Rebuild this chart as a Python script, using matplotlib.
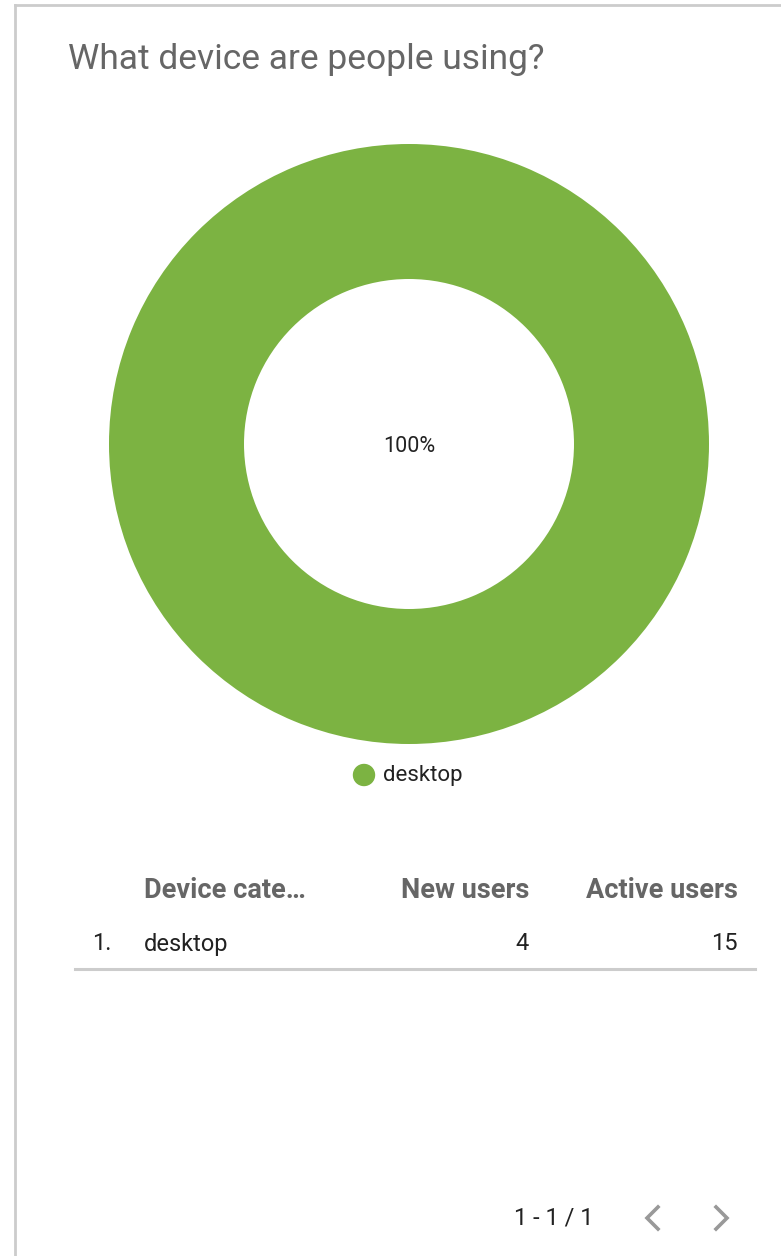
import matplotlib
matplotlib.use("Agg")
import matplotlib.pyplot as plt
from matplotlib.patches import Circle
from matplotlib.lines import Line2D

# ---- data ----
categories = ["desktop"]
new_users = [4]
active_users = [15]
title = "What device are people using?"
col_headers = ["Device cate\u2026", "New users", "Active users"]
page_label = "1 - 1 / 1"

GREEN = "#7cb342"
W, H = 781, 1256
fig = plt.figure(figsize=(W / 100, H / 100), dpi=100)
ax = fig.add_axes([0, 0, 1, 1])
FONT = ["Roboto", "DejaVu Sans"]

# donut
total = sum(active_users)
ax.pie(active_users, colors=[GREEN], radius=300, center=(409, 444),
       startangle=90, counterclock=False,
       wedgeprops=dict(width=135, edgecolor="none"))
ax.set_xlim(0, W)
ax.set_ylim(H, 0)
ax.set_aspect("equal")
ax.axis("off")

pct = 100 * active_users[0] / total
ax.text(409, 446, f"{pct:.0f}%", ha="center", va="center", fontsize=15.5,
        color="#222222", family=FONT)

# card border
ax.add_line(Line2D([15, W], [5, 5], color="#cccccc", lw=2))
ax.add_line(Line2D([15, 15], [5, H], color="#cccccc", lw=2))

# title
ax.text(68, 59, title, ha="left", va="center", fontsize=25.5,
        color="#666666", family=FONT)

# legend
ax.add_patch(Circle((364, 775), 10.5, color=GREEN))
ax.text(383, 776, categories[0], ha="left", va="center", fontsize=16,
        color="#222222", family=FONT)

# table
hy = 891
hfs = 19.5
ax.text(144, hy, col_headers[0], ha="left", va="center", fontsize=hfs,
        fontweight="bold", color="#666666", family=FONT)
ax.text(529, hy, col_headers[1], ha="right", va="center", fontsize=hfs,
        fontweight="bold", color="#666666", family=FONT)
ax.text(738, hy, col_headers[2], ha="right", va="center", fontsize=hfs,
        fontweight="bold", color="#666666", family=FONT)

for i, (cat, nu, au) in enumerate(zip(categories, new_users, active_users)):
    ry = 944 + i * 50
    ax.text(92, ry, f"{i + 1}.", ha="left", va="center", fontsize=17,
            color="#222222", family=FONT)
    ax.text(144, ry, cat, ha="left", va="center", fontsize=17,
            color="#222222", family=FONT)
    ax.text(529, ry, str(nu), ha="right", va="center", fontsize=17,
            color="#222222", family=FONT)
    ax.text(738, ry, str(au), ha="right", va="center", fontsize=17,
            color="#222222", family=FONT)

ax.add_line(Line2D([75, 755], [969, 969], color="#cccccc", lw=2.2))

# pagination
ax.text(594, 1218, page_label, ha="right", va="center", fontsize=17,
        color="#222222", family=FONT)
ax.add_line(Line2D([658, 647, 658], [1207, 1218, 1229], color="#999999",
                   lw=2.6, solid_joinstyle="miter"))
ax.add_line(Line2D([716, 727, 716], [1207, 1218, 1229], color="#999999",
                   lw=2.6, solid_joinstyle="miter"))

fig.savefig("out.png", dpi=100, facecolor="white")
